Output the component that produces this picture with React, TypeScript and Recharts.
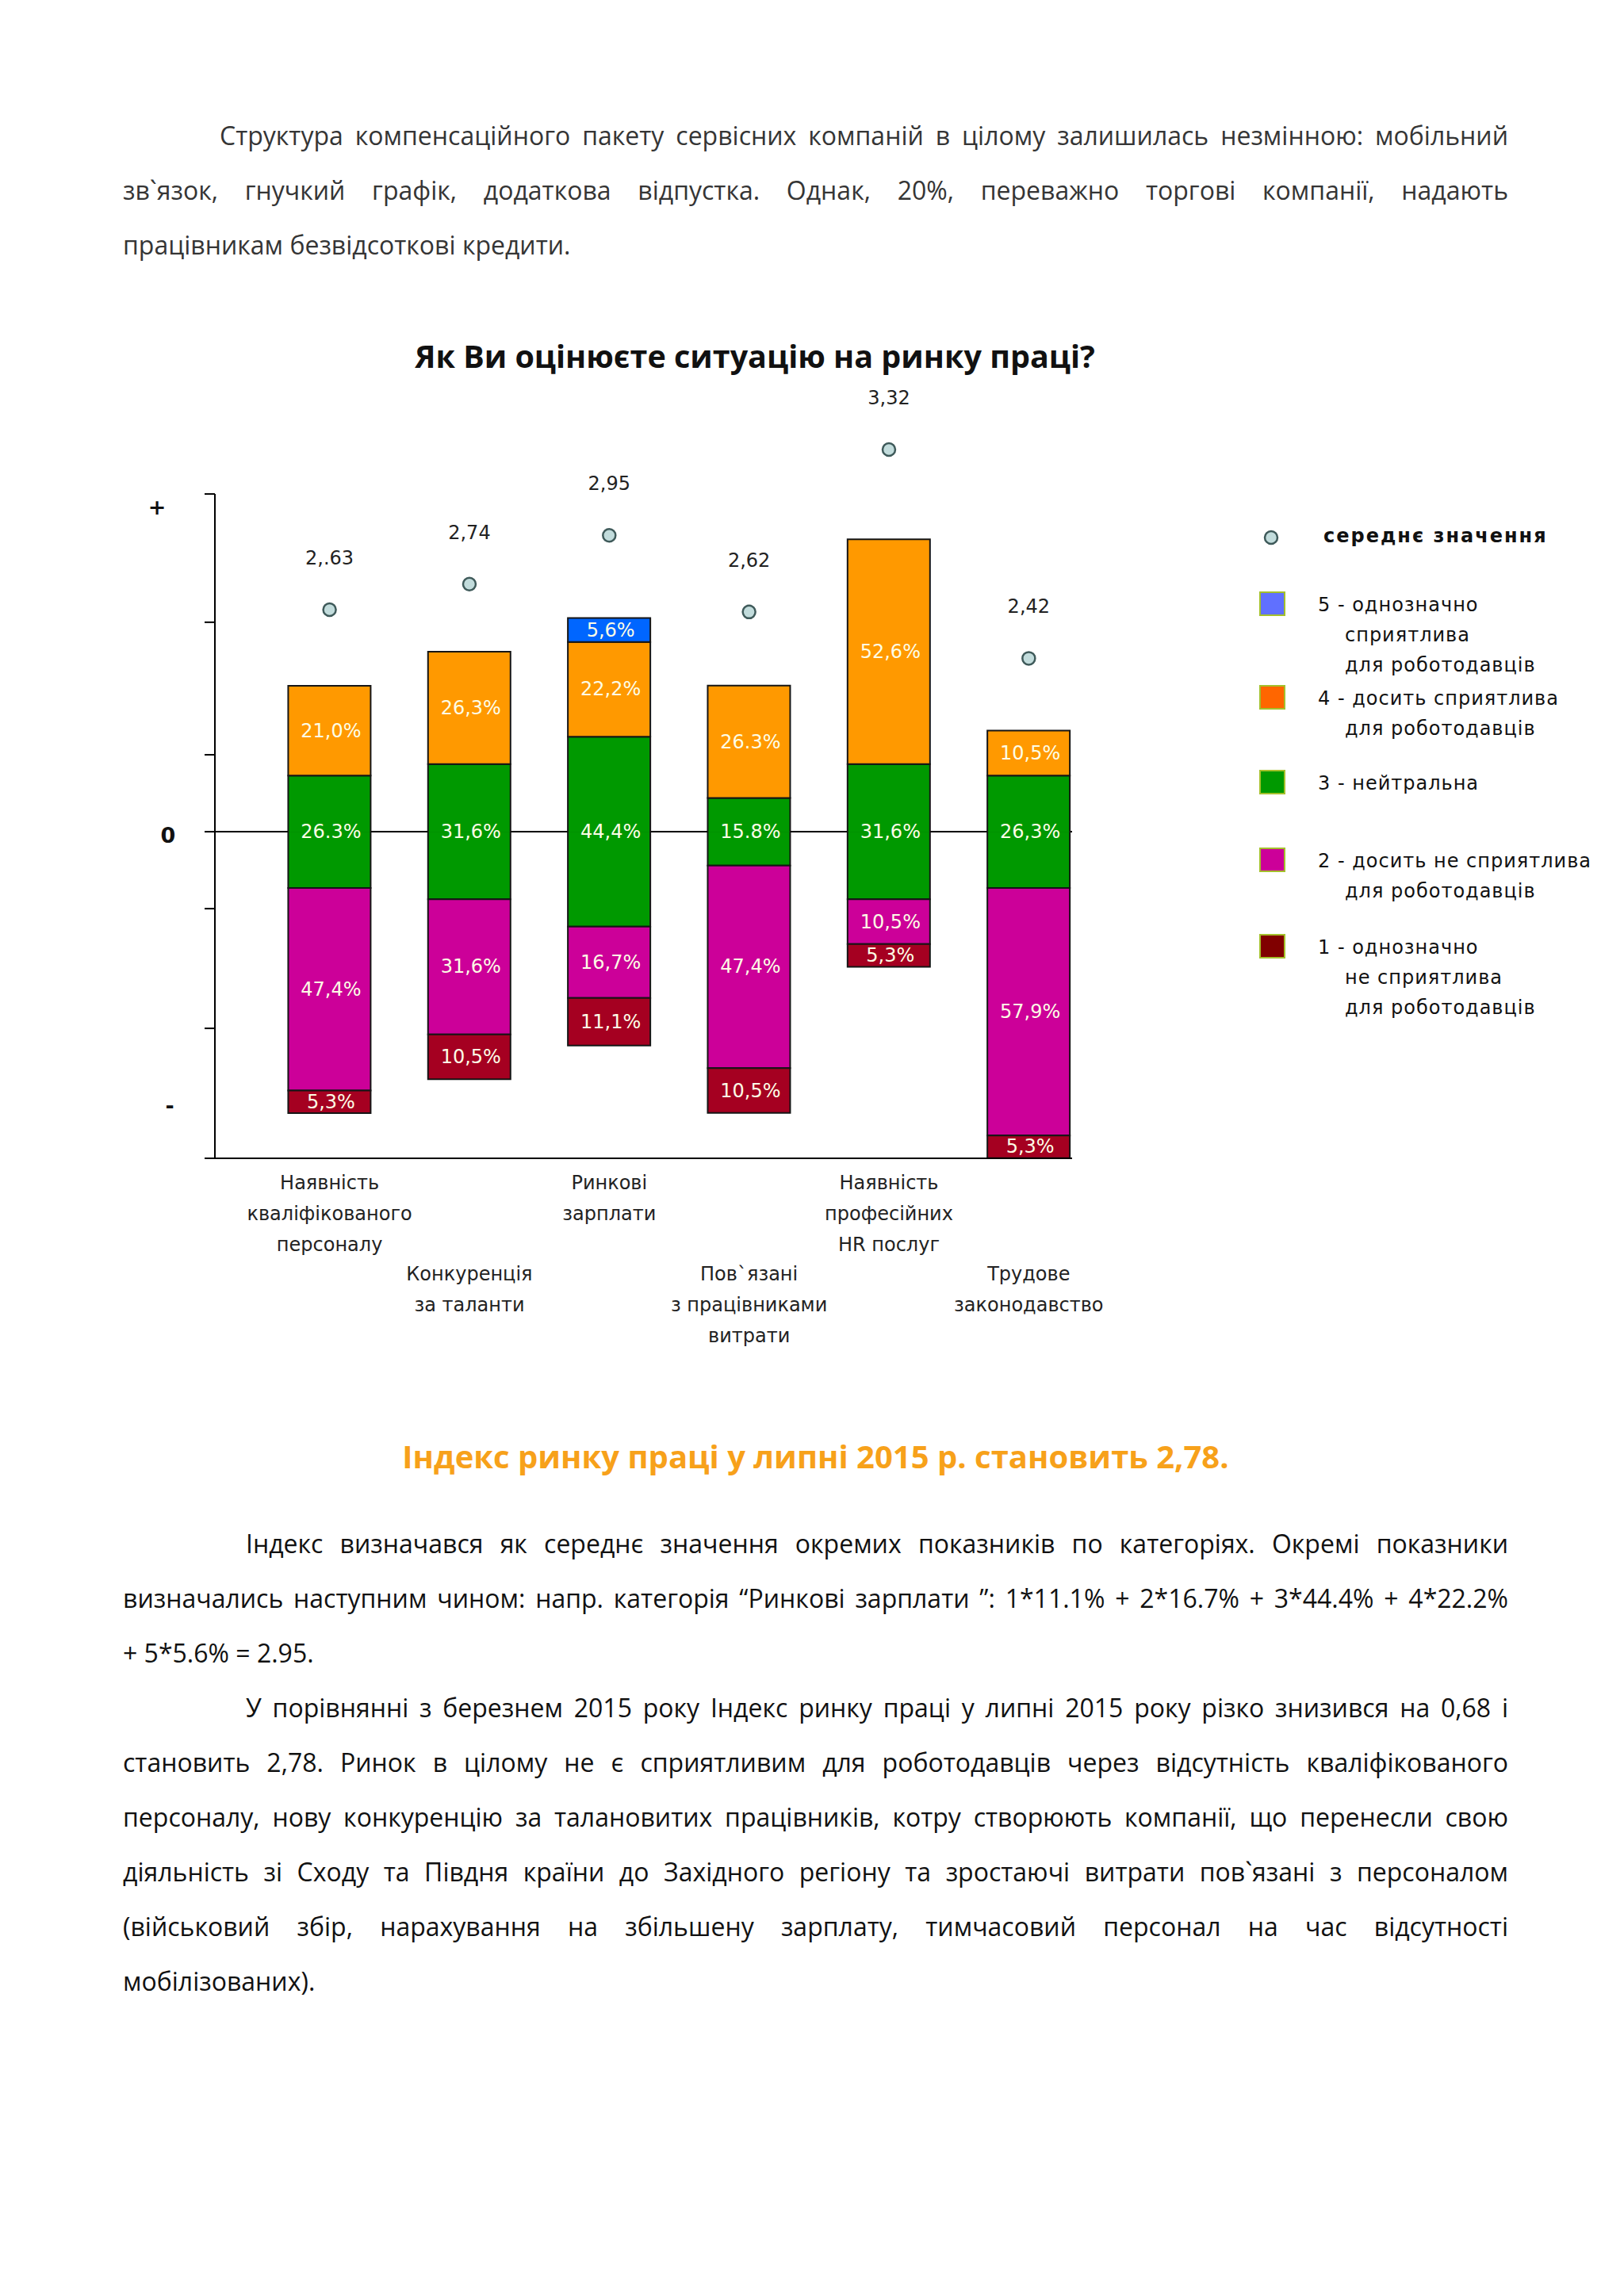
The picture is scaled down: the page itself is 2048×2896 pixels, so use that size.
import React from "react";
import {
  Bar,
  CartesianGrid,
  ComposedChart,
  LabelList,
  Legend,
  Line,
  ReferenceLine,
  XAxis,
  YAxis,
} from "recharts";

// category index on the x axis and its (multi-line) label
const positions = [0, 1, 2, 3, 4, 5];
const categories = [
  ["Наявність", "кваліфікованого", "персоналу"],
  ["Конкуренція", "за таланти"],
  ["Ринкові", "зарплати"],
  ["Пов`язані", "з працівниками", "витрати"],
  ["Наявність", "професійних", "HR послуг"],
  ["Трудове", "законодавство"],
];

// shares of answers, %
const veryFavourable = [0, 0, 5.6, 0, 0, 0];
const ratherFavourable = [21.0, 26.3, 22.2, 26.3, 52.6, 10.5];
const neutral = [26.3, 31.6, 44.4, 15.8, 31.6, 26.3];
const ratherUnfavourable = [47.4, 31.6, 16.7, 47.4, 10.5, 57.9];
const veryUnfavourable = [5.3, 10.5, 11.1, 10.5, 5.3, 5.3];

// labels as printed on the bars
const label5 = ["", "", "5,6%", "", "", ""];
const label4 = ["21,0%", "26,3%", "22,2%", "26.3%", "52,6%", "10,5%"];
const label3 = ["26.3%", "31,6%", "44,4%", "15.8%", "31,6%", "26,3%"];
const label2 = ["47,4%", "31,6%", "16,7%", "47,4%", "10,5%", "57,9%"];
const label1 = ["5,3%", "10,5%", "11,1%", "10,5%", "5,3%", "5,3%"];

// mean score per category
const meanValues = [2.63, 2.74, 2.95, 2.62, 3.32, 2.42];
const meanLabels = ["2,.63", "2,74", "2,95", "2,62", "3,32", "2,42"];

const yTicks = [79, 49, 18, 0, -18, -46, -76.4];
const Y_DOMAIN: [number, number] = [-76.4, 90.7];
const X_DOMAIN: [number, number] = [-0.82, 5.31];

const legendNames = [
  ["5 - однозначно", "сприятлива", "для роботодавців"],
  ["4 - досить сприятлива", "для роботодавців"],
  ["3 - нейтральна"],
  ["2 - досить не сприятлива", "для роботодавців"],
  ["1 - однозначно", "не сприятлива", "для роботодавців"],
];
const legendColors = ["#6070ff", "#ff6600", "#009900", "#cc0099", "#800000"];
const legendRowY = [113, 231, 338, 436, 545];

const para1 = [
  "Структура компенсаційного пакету сервісних компаній в цілому залишилась незмінною: мобільний",
  "зв`язок, гнучкий графік, додаткова відпустка. Однак, 20%, переважно торгові компанії, надають",
  "працівникам безвідсоткові кредити.",
];
const para2 = [
  "Індекс визначався як середнє значення окремих показників по категоріях. Окремі показники",
  "визначались наступним чином: напр. категорія “Ринкові зарплати ”: 1*11.1% + 2*16.7% + 3*44.4% + 4*22.2%",
  "+ 5*5.6% = 2.95.",
];
const para3 = [
  "У порівнянні з березнем 2015 року Індекс ринку праці у липні 2015 року різко знизився на 0,68 і",
  "становить 2,78.  Ринок в цілому не є сприятливим для роботодавців через  відсутність кваліфікованого",
  "персоналу, нову конкуренцію за талановитих працівників, котру створюють компанії, що перенесли свою",
  "діяльність зі Сходу та Півдня країни до Західного регіону та зростаючі витрати пов`язані з персоналом",
  "(військовий збір,  нарахування на збільшену зарплату, тимчасовий персонал на час відсутності",
  "мобілізованих).",
];

const data = positions.map((idx, i) => ({
  idx,
  neutralUp: neutral[i] / 2,
  neutralDown: -neutral[i] / 2,
  v4: ratherFavourable[i],
  v5: veryFavourable[i],
  v2: -ratherUnfavourable[i],
  v1: -veryUnfavourable[i],
  l5: label5[i],
  l4: label4[i],
  l3: label3[i],
  l2: label2[i],
  l1: label1[i],
  mean: meanValues[i],
  meanLabel: meanLabels[i],
}));

const EDGE = "#151515";
const CHART_FONT = "'DejaVu Sans', Verdana, sans-serif";
const BODY_FONT = "'Open Sans', 'Noto Sans', sans-serif";

function box(props: any) {
  const vb = props.viewBox && props.viewBox.width !== undefined ? props.viewBox : props;
  const x = Number(vb.x);
  const y = Number(vb.y);
  const w = Number(vb.width) || 0;
  const h = Number(vb.height) || 0;
  return { x, y: Math.min(y, y + h), w, h: Math.abs(h), rawY: y, rawH: h };
}

const segLabel = (atZero: boolean) => (props: any) => {
  const text = props.value;
  if (!text) return null;
  const b = box(props);
  if (!b.h) return null;
  const cy = atZero ? (b.rawH >= 0 ? b.rawY + b.rawH : b.rawY) : b.y + b.h / 2;
  return (
    <text
      x={b.x + b.w / 2 + 2}
      y={cy}
      textAnchor="middle"
      dominantBaseline="central"
      fill="#fdfde6"
      fontSize={24}
      fontFamily={CHART_FONT}
    >
      {text}
    </text>
  );
};

function halfShape(openSide: "bottom" | "top") {
  return (props: any) => {
    const { x, y, width, height, fill } = props;
    if (!height) return <g />;
    const top = Math.min(y, y + height);
    const h = Math.abs(height);
    const d =
      openSide === "bottom"
        ? `M${x},${top + h} V${top} H${x + width} V${top + h}`
        : `M${x},${top} V${top + h} H${x + width} V${top}`;
    return (
      <g>
        <rect x={x} y={top} width={width} height={h} fill={fill} />
        <path d={d} fill="none" stroke={EDGE} strokeWidth={2} />
      </g>
    );
  };
}

function MeanDot(props: any) {
  const { cx, cy } = props;
  if (cx == null || cy == null) return <g />;
  return <ellipse cx={cx} cy={cy} rx={8} ry={8} fill="#c2dcdc" stroke="#3f5a5a" strokeWidth={2.5} />;
}

function MeanLabel(props: any) {
  const x = props.x ?? props.viewBox?.x;
  const y = props.y ?? props.viewBox?.y;
  return (
    <text
      x={x}
      y={y - 65}
      textAnchor="middle"
      dominantBaseline="central"
      fill="#222"
      fontSize={24}
      fontFamily={CHART_FONT}
    >
      {props.value}
    </text>
  );
}

function XTick(props: any) {
  const { x, y, payload } = props;
  const i = Number(payload.value);
  const lines = categories[i] || [];
  const first = i % 2 === 0 ? 31 : 146;
  return (
    <g>
      {lines.map((t, k) => (
        <text
          key={k}
          x={x}
          y={y + first + k * 39}
          textAnchor="middle"
          dominantBaseline="central"
          fill="#222"
          fontSize={24}
          fontFamily={CHART_FONT}
        >
          {t}
        </text>
      ))}
    </g>
  );
}

function YTick(props: any) {
  const { x, y, payload } = props;
  const v = payload.value;
  let mark = "";
  let dx = 0;
  let dy = 0;
  if (v === yTicks[0]) {
    mark = "+";
    dx = -60;
    dy = 16;
  } else if (v === 0) {
    mark = "0";
    dx = -46;
    dy = 4;
  } else if (v === yTicks[yTicks.length - 1]) {
    mark = "-";
    dx = -44;
    dy = -67;
  }
  if (!mark) return <g />;
  return (
    <text
      x={x + dx}
      y={y + dy}
      textAnchor="middle"
      dominantBaseline="central"
      fill="#111"
      fontSize={27}
      fontWeight="bold"
      fontFamily={CHART_FONT}
    >
      {mark}
    </text>
  );
}

function LegendBox() {
  const txt: React.CSSProperties = {
    position: "absolute",
    whiteSpace: "nowrap",
    fontFamily: CHART_FONT,
    fontSize: 24,
    letterSpacing: 1,
    color: "#111",
    lineHeight: "30px",
    height: 30,
  };
  return (
    <div style={{ position: "relative", width: 450, height: 660 }}>
      <svg style={{ position: "absolute", left: 4, top: 17 }} width={22} height={22}>
        <circle cx={11} cy={11} r={8} fill="#c2dcdc" stroke="#3f5a5a" strokeWidth={2.5} />
      </svg>
      <div style={{ ...txt, left: 81, top: 26 - 15, fontWeight: "bold", letterSpacing: 2 }}>
        середнє значення
      </div>
      {legendNames.map((lines, i) => (
        <React.Fragment key={i}>
          <div
            style={{
              position: "absolute",
              left: 0,
              top: legendRowY[i] - 17,
              width: 29,
              height: 27,
              background: legendColors[i],
              border: "2px solid #a4c02c",
            }}
          />
          {lines.map((t, k) => (
            <div key={k} style={{ ...txt, left: k === 0 ? 74 : 108, top: legendRowY[i] + k * 38 - 15 }}>
              {t}
            </div>
          ))}
        </React.Fragment>
      ))}
    </div>
  );
}

function TextBlock({ lines, top, indent, color }: { lines: string[]; top: number; indent: number; color: string }) {
  return (
    <div style={{ position: "absolute", left: 155, top, width: 1747 }}>
      {lines.map((t, i) => {
        const last = i === lines.length - 1;
        return (
          <div
            key={i}
            style={{
              marginLeft: i === 0 ? indent : 0,
              height: 69,
              lineHeight: "69px",
              fontFamily: BODY_FONT,
              fontSize: 32,
              color,
              whiteSpace: "nowrap",
              textAlign: last ? "left" : "justify",
              textAlignLast: last ? "left" : "justify",
            }}
          >
            {t}
          </div>
        );
      })}
    </div>
  );
}

export default function App() {
  return (
    <div
      style={{
        position: "absolute",
        left: 0,
        top: 0,
        width: 2048,
        height: 2896,
        background: "#fff",
        overflow: "hidden",
      }}
    >
      <TextBlock lines={para1} top={170 - 34} indent={122} color="#353535" />

      <div
        style={{
          position: "absolute",
          left: 0,
          top: 449 - 30,
          width: 1904,
          height: 60,
          lineHeight: "60px",
          textAlign: "center",
          fontFamily: BODY_FONT,
          fontWeight: "bold",
          fontSize: 39.5,
          color: "#111",
        }}
      >
        Як Ви оцінюєте ситуацію на ринку праці?
      </div>

      <div style={{ position: "absolute", left: 150, top: 420 }}>
        <ComposedChart
          width={1890}
          height={1301}
          data={data}
          stackOffset="sign"
          margin={{ top: 140, right: 688, bottom: 20, left: 61 }}
        >
          <CartesianGrid horizontal vertical={false} horizontalValues={[0]} stroke="#000" strokeWidth={2} />
          <XAxis
            type="number"
            dataKey="idx"
            domain={X_DOMAIN}
            ticks={positions}
            interval={0}
            tickLine={false}
            tickSize={0}
            tickMargin={0}
            height={240}
            axisLine={{ stroke: "#000", strokeWidth: 2 }}
            tick={<XTick />}
          />
          <YAxis
            type="number"
            domain={Y_DOMAIN}
            ticks={yTicks}
            interval={0}
            width={60}
            axisLine={false}
            tickLine={{ stroke: "#000", strokeWidth: 2 }}
            tickSize={13}
            tickMargin={0}
            tick={<YTick />}
          />
          <YAxis yAxisId="mean" type="number" domain={[0.265, 3.344]} hide />
          <ReferenceLine
            segment={[
              { x: X_DOMAIN[0], y: yTicks[0] },
              { x: X_DOMAIN[0], y: yTicks[yTicks.length - 1] },
            ]}
            stroke="#000"
            strokeWidth={2}
          />
          <Bar dataKey="neutralUp" stackId="s" fill="#009900" barSize={104} shape={halfShape("bottom")} isAnimationActive={false}>
            <LabelList dataKey="l3" content={segLabel(true)} />
          </Bar>
          <Bar dataKey="neutralDown" stackId="s" fill="#009900" barSize={104} shape={halfShape("top")} isAnimationActive={false} />
          <Bar dataKey="v4" stackId="s" fill="#ff9900" stroke={EDGE} strokeWidth={2} barSize={104} isAnimationActive={false}>
            <LabelList dataKey="l4" content={segLabel(false)} />
          </Bar>
          <Bar dataKey="v2" stackId="s" fill="#cc0099" stroke={EDGE} strokeWidth={2} barSize={104} isAnimationActive={false}>
            <LabelList dataKey="l2" content={segLabel(false)} />
          </Bar>
          <Bar dataKey="v5" stackId="s" fill="#0066ff" stroke={EDGE} strokeWidth={2} barSize={104} isAnimationActive={false}>
            <LabelList dataKey="l5" content={segLabel(false)} />
          </Bar>
          <Bar dataKey="v1" stackId="s" fill="#a50021" stroke={EDGE} strokeWidth={2} barSize={104} isAnimationActive={false}>
            <LabelList dataKey="l1" content={segLabel(false)} />
          </Bar>
          <Line
            yAxisId="mean"
            dataKey="mean"
            stroke="none"
            dot={<MeanDot />}
            activeDot={false}
            isAnimationActive={false}
          >
            <LabelList dataKey="meanLabel" content={MeanLabel} />
          </Line>
          <Legend
            layout="horizontal"
            verticalAlign="middle"
            align="center"
            content={() => <LegendBox />}
            wrapperStyle={{ left: 1438, top: 230, width: 450, height: 660 }}
          />
        </ComposedChart>
      </div>

      <div
        style={{
          position: "absolute",
          left: 155,
          top: 1837 - 30,
          width: 1747,
          height: 60,
          lineHeight: "60px",
          textAlign: "center",
          fontFamily: BODY_FONT,
          fontWeight: "bold",
          fontSize: 40,
          color: "#f7a11a",
        }}
      >
        Індекс ринку праці у липні 2015 р. становить 2,78.
      </div>

      <TextBlock lines={para2} top={1946 - 34} indent={155} color="#111" />
      <TextBlock lines={para3} top={2153 - 34} indent={155} color="#111" />
    </div>
  );
}
